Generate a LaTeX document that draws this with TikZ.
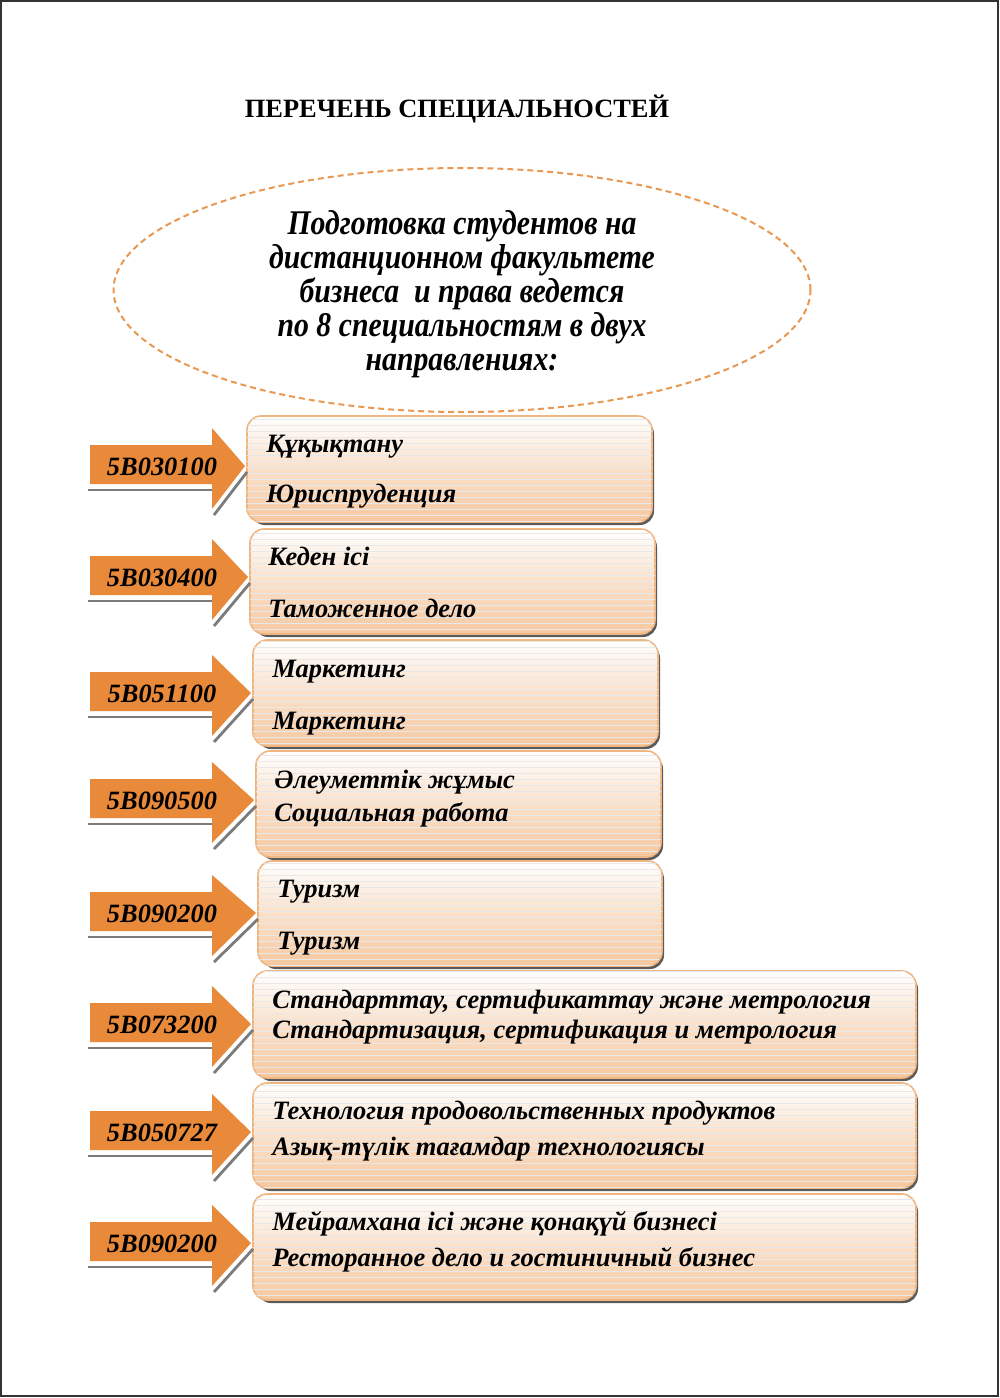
\documentclass[tikz,border=0pt]{standalone}
\usepackage{fontspec}
\setmainfont{Liberation Serif}
\newfontfamily\condfont[FakeStretch=0.86]{Liberation Serif}
\usetikzlibrary{patterns,shapes.geometric}
\definecolor{arroworange}{RGB}{233,137,58}
\definecolor{boxedge}{RGB}{240,182,130}
\definecolor{boxpeach}{RGB}{246,200,160}
\definecolor{ellipseorange}{RGB}{232,152,80}
\definecolor{shadowgray}{RGB}{90,90,90}
\tikzset{
  specbox/.style={rounded corners=7pt, draw=boxedge, line width=0.8pt,
    top color=white, bottom color=boxpeach, middle color=boxpeach!55,
    inner sep=0pt, outer sep=0pt,
    postaction={pattern=horizontal lines, pattern color=black!9}},
  boxshadow/.style={rounded corners=7pt, fill=shadowgray},
  spectext/.style={anchor=base west, inner sep=0pt, font=\fontsize{13.25pt}{15pt}\selectfont\bfseries\itshape},
  codetext/.style={anchor=base, inner sep=0pt, font=\fontsize{13.2pt}{15pt}\selectfont\bfseries\itshape},
  arrowbody/.style={fill=arroworange},
  arrowshadow/.style={draw=shadowgray!80, line width=1.4pt},
}
\begin{document}
\begin{tikzpicture}[x=0.5pt,y=-0.5pt]
\useasboundingbox (0,0) rectangle (1000,1398);
\fill[white] (0,0) rectangle (1000,1398);
\draw[line width=1.2pt, black!80] (1,1) rectangle (998,1396);

\node[font=\fontsize{13.2pt}{15pt}\selectfont\bfseries, anchor=base] (title) at (457,117) {ПЕРЕЧЕНЬ СПЕЦИАЛЬНОСТЕЙ};

\node[draw=ellipseorange, line width=1pt, dash pattern=on 3pt off 2pt, ellipse, minimum width=348.5pt, minimum height=122pt, inner sep=0pt] (intro) at (462,290) {};
\node[font=\condfont\fontsize{17.3pt}{17pt}\selectfont\bfseries\itshape, align=center, inner sep=0pt] (introtext) at (462,294)
  {Подготовка студентов на\\дистанционном факультете\\бизнеса\ \ и права ведется\\по 8 специальностям в двух\\направлениях:};

\foreach \i/\cx/\cy/\w/\h/\tx/\ba/\bb/\la/\lb/\code/\ay in {
 1/449.5/469/405/106/266/452/502/{Құқықтану}/{Юриспруденция}/5B030100/466,
 2/452.5/581.5/405/105/268/565/617/{Кеден ісі}/{Таможенное дело}/5B030400/577,
 3/455.5/693/405/106/272/677/729/{Маркетинг}/{Маркетинг}/5B051100/693,
 4/458.5/804/405/106/274/788/821/{Әлеуметтік жұмыс}/{Социальная работа}/5B090500/800,
 5/460/913.5/404/105/277/897/949/{Туризм}/{Туризм}/5B090200/913,
 6/584.5/1024.5/663/107/272/1008/1038/{Стандарттау, сертификаттау және метрология}/{Стандартизация, сертификация и метрология}/5B073200/1024,
 7/584.5/1135.5/663/105/272/1119/1155/{Технология продовольственных продуктов}/{Азық-түлік тағамдар технологиясы}/5B050727/1132,
 8/584.5/1247/663/106/272/1230/1266/{Мейрамхана ісі және қонақүй бизнесі}/{Ресторанное дело и гостиничный бизнес}/5B090200/1243}
{
  \fill[boxshadow] ({\cx-\w/2+4},{\cy-\h/2+4}) rectangle ({\cx+\w/2+2},{\cy+\h/2+3});
  \node[specbox, minimum width=\w*0.5pt, minimum height=\h*0.5pt] (box\i) at (\cx,\cy) {};
  \node[spectext] (ta\i) at (\tx,\ba) {\la};
  \node[spectext] (tb\i) at (\tx,\bb) {\lb};
  \pgfmathsetmacro{\apex}{\cx-\w/2-2}
  \draw[arrowshadow] (88,{\ay+24}) -- (212,{\ay+24});
  \draw[arrowshadow] (214,{\ay+49}) -- ({\apex+2},{\ay+6});
  \fill[arrowbody] (90,{\ay-21}) -- (90,{\ay+18}) -- (212,{\ay+18}) -- (212,{\ay+43}) -- (\apex,\ay) -- (212,{\ay-38}) -- (212,{\ay-21}) -- cycle;
  \coordinate (tip\i) at (\apex,\ay);
  \node[codetext] (code\i) at (162,{\ay+9}) {\code};
}
\end{tikzpicture}
\end{document}
